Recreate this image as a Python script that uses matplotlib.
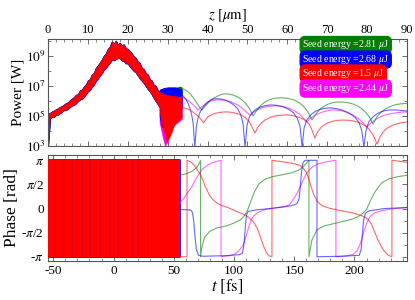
import numpy as np
import matplotlib
matplotlib.use('Agg')
import matplotlib.pyplot as plt
from matplotlib.ticker import MultipleLocator, FixedLocator, NullFormatter, FuncFormatter

plt.rcParams['font.family'] = ['Liberation Serif', 'DejaVu Serif']
plt.rcParams['mathtext.fontset'] = 'stix'

# legend labels / colours
seed_energies = ['2.81', '2.68', '1.5', '2.44']
seed_colors = ['#008000', '#0000ff', '#ff0000', '#ff00ff']

# ---- power, noisy part (z [um], log10 P) ----
hump_z = list(np.arange(0, 28.5, 0.5))
hump_lo = [3.0, 4.85, 4.95, 4.95, 5.1, 5.1, 5.2, 5.3, 5.4, 5.4,
           5.5, 5.6, 5.7, 5.75, 5.85, 6.0, 6.1, 6.15, 6.3, 6.45,
           6.65, 6.75, 6.95, 7.1, 7.35, 7.5, 7.7, 7.85, 8.1, 8.2,
           8.4, 8.55, 8.75, 8.7, 8.8, 8.85, 8.85, 8.7, 8.65, 8.5,
           8.5, 8.3, 8.15, 8.0, 7.9, 7.7, 7.5, 7.35, 7.2, 7.0,
           6.8, 6.65, 6.45, 6.2, 6.0, 5.8, 5.6]
hump_hi = [5.15, 5.2, 5.3, 5.35, 5.45, 5.5, 5.6, 5.65, 5.75, 5.85,
           5.9, 6.05, 6.15, 6.25, 6.4, 6.45, 6.7, 6.75, 6.95, 7.1,
           7.35, 7.45, 7.75, 7.85, 8.2, 8.35, 8.55, 8.75, 9.0, 9.15,
           9.45, 9.6, 9.95, 9.8, 10.0, 9.75, 9.85, 9.7, 9.75, 9.5,
           9.45, 9.3, 9.15, 8.95, 8.85, 8.6, 8.5, 8.2, 8.1, 7.85,
           7.75, 7.45, 7.35, 7.05, 7.0, 6.7, 6.6]

green_tail_z = [28, 29, 30, 31, 32, 33, 33.5]
green_tail_lo = [5.5, 5.4, 5.5, 5.6, 5.8, 5.9, 6.0]
green_tail_hi = [6.7, 6.75, 6.8, 6.8, 6.85, 6.95, 6.9]
blue_tail_z = [28, 28.5, 29, 30, 31, 32, 33, 33.5]
blue_tail_lo = [5.0, 4.3, 4.6, 4.8, 5.0, 5.2, 5.3, 5.5]
blue_tail_hi = [6.75, 6.8, 6.85, 6.9, 6.9, 6.9, 6.8, 6.75]
red_tail_z = [28, 28.7, 29.3, 29.8, 30.3, 31, 31.6, 32.3, 33, 33.5]
red_tail_lo = [5.2, 4.2, 3.8, 3.2, 3.5, 3.9, 4.4, 4.6, 4.8, 4.9]
red_tail_hi = [6.6, 6.5, 6.45, 6.4, 6.4, 6.35, 6.35, 6.3, 6.3, 6.3]
magenta_tail_z = [28, 28.8, 29.4, 30, 31, 32, 33.5]
magenta_tail_lo = [4.6, 3.6, 3.0, 3.7, 4.2, 4.5, 4.8]
magenta_tail_hi = [6.55, 6.45, 6.4, 6.4, 6.35, 6.3, 6.3]

# ---- power, smooth part (z [um], log10 P) ----
green_pw = [(33.5, 6.85), (34.5, 6.72), (35.6, 6.5), (36.4, 6.22), (37.3, 5.87), (38.1, 5.55),
            (38.6, 5.38), (39.3, 5.62), (40.2, 5.88), (41.2, 6.12), (42.3, 6.3), (43.3, 6.42),
            (44.3, 6.47), (45.5, 6.45), (46.5, 6.38), (47.5, 6.27), (48.5, 6.1), (49.5, 5.85),
            (50.5, 5.5), (51.4, 5.0), (52.4, 5.4), (53.4, 5.72), (54.5, 5.95), (55.5, 6.08),
            (56.5, 6.16), (57.6, 6.2), (58.7, 6.21), (60, 6.18), (61, 6.12), (62, 6.03),
            (63, 5.88), (64, 5.65), (65.1, 5.3), (66.2, 4.73), (67.2, 5.15), (68.2, 5.45),
            (69.2, 5.65), (70.2, 5.79), (71.2, 5.87), (72.2, 5.92), (73.2, 5.93), (74.5, 5.91),
            (75.5, 5.86), (76.5, 5.79), (77.5, 5.68), (78.5, 5.52), (79.5, 5.28), (80.5, 4.95),
            (81.5, 4.47), (82.5, 4.95), (83.5, 5.25), (84.5, 5.45), (85.5, 5.6), (86.5, 5.7),
            (87.5, 5.77), (88.5, 5.81), (90, 5.83)]
blue_pw = [(33.5, 6.4), (34.5, 6.15), (35.1, 5.85), (35.6, 5.5), (36.0, 5.1), (36.4, 4.5),
           (36.8, 2.9), (37.2, 4.3), (37.6, 4.87), (38.2, 5.3), (38.9, 5.6), (39.8, 5.85),
           (40.6, 6.05), (41.5, 6.13), (42.3, 6.15), (43.5, 6.12), (44.5, 6.05), (45.5, 5.93),
           (46.5, 5.75), (47.5, 5.5), (48.3, 5.1), (48.9, 4.5), (49.4, 2.9), (49.9, 4.4),
           (50.5, 4.95), (51.5, 5.3), (52.5, 5.5), (53.5, 5.62), (54.5, 5.69), (55.5, 5.73),
           (56.5, 5.73), (57.5, 5.7), (58.5, 5.64), (59.5, 5.55), (60.5, 5.42), (61.5, 5.22),
           (62.5, 4.85), (63.2, 4.3), (63.7, 2.9), (64.2, 4.2), (64.9, 4.75), (66, 5.1),
           (67, 5.3), (68, 5.42), (69, 5.49), (70, 5.53), (71, 5.53), (72, 5.5), (73, 5.45),
           (74, 5.37), (75, 5.25), (76, 5.1), (77, 4.9), (78, 4.55), (78.7, 4.0), (79.2, 2.9),
           (79.7, 4.0), (80.4, 4.6), (81.5, 4.95), (82.5, 5.15), (83.5, 5.28), (84.5, 5.36),
           (85.7, 5.4), (87, 5.4), (88.5, 5.37), (90, 5.33)]
red_pw = [(33.5, 5.6), (35.6, 5.4), (37.3, 5.07), (38.3, 4.8), (39.0, 4.55), (40.1, 4.95),
          (41, 5.08), (42, 5.18), (43, 5.24), (44.4, 5.27), (45.5, 5.26), (46.5, 5.22),
          (47.5, 5.15), (48.5, 5.05), (49.5, 4.9), (50.5, 4.6), (51.2, 4.25), (51.9, 3.87),
          (52.6, 4.25), (53.5, 4.55), (54.5, 4.75), (55.5, 4.88), (56.5, 4.97), (57.5, 5.03),
          (59.4, 5.07), (60.5, 5.06), (61.5, 5.02), (62.5, 4.95), (63.5, 4.85), (64.5, 4.7),
          (65.5, 4.45), (66.2, 4.05), (66.9, 3.53), (67.6, 3.95), (68.5, 4.25), (69.5, 4.45),
          (70.5, 4.58), (71.5, 4.66), (72.5, 4.71), (74, 4.73), (75.5, 4.71), (76.5, 4.67),
          (77.5, 4.6), (78.5, 4.5), (79.5, 4.35), (80.5, 4.12), (81.5, 3.75), (82.5, 3.13),
          (83.3, 3.65), (84.2, 4.0), (85.2, 4.22), (86.5, 4.4), (88, 4.52), (90, 4.6)]
magenta_pw = [(33.5, 6.3), (35.6, 5.93), (37.0, 5.6), (37.6, 5.38), (38.5, 5.6), (39.8, 5.9),
              (40.8, 6.0), (42, 6.06), (43, 6.07), (44, 6.05), (45, 6.0), (46, 5.92), (47, 5.8),
              (48, 5.65), (49, 5.45), (50, 5.2), (50.6, 5.07), (51.5, 5.25), (52.5, 5.42),
              (53.5, 5.53), (54.5, 5.6), (55.5, 5.65), (56.9, 5.67), (58, 5.66), (59, 5.62),
              (60, 5.55), (61, 5.45), (62, 5.32), (63, 5.13), (64, 4.88), (64.9, 4.6),
              (65.8, 4.85), (67, 5.05), (68, 5.18), (69, 5.28), (70, 5.35), (71.4, 5.4),
              (72.5, 5.39), (73.5, 5.35), (74.5, 5.28), (75.5, 5.18), (76.5, 5.05), (77.5, 4.88),
              (78.5, 4.67), (79.3, 4.45), (80, 4.27), (80.8, 4.5), (82, 4.75), (83, 4.9),
              (84, 5.02), (85, 5.1), (86.5, 5.18), (88, 5.24), (90, 5.27)]

# ---- phase (t [fs], phase / pi) ----
noise_t = [-54.4, 55.2]
streak_t = [-48.5, -41.9, -34.4, -26.1, -19.5, -11.2, -2.9, 3.7, 15.3, 20.3, 27.8, 36.1]

green_ph = [(55.2, 0.69), (60, 0.72), (65, 0.77), (69, 0.85), (71, 0.93), (72.2, 1.0), (72.2, -1.0),
            (73.4, -0.79), (75.5, -0.6), (80, -0.47), (86, -0.4), (94, -0.36), (100, -0.3),
            (105, -0.24), (108, -0.17), (111, -0.05), (114, 0.15), (117, 0.35), (121, 0.52),
            (126, 0.61), (132, 0.66), (140, 0.7), (148, 0.74), (154, 0.8), (158, 0.88),
            (160.5, 0.95), (162.2, 1.0), (162.2, -1.0), (164.7, -0.65), (168.9, -0.44),
            (175, -0.36), (180, -0.33), (190, -0.27), (198, -0.22), (203, -0.17), (207, -0.1),
            (210, -0.02), (213, 0.15), (216, 0.3), (219, 0.42), (223, 0.54), (229, 0.62),
            (236, 0.66), (243.6, 0.69)]
blue_ph = [(55.2, -0.02), (64, -0.03), (65.5, -0.08), (66.5, -0.25), (67.6, -0.58), (68.8, -0.85),
           (70.5, -0.97), (74, -0.99), (90, -0.98), (104, -0.96), (107, -0.93), (108.5, -0.7),
           (109.5, -0.35), (110.5, -0.12), (112, -0.06), (118, -0.03), (130, 0.0), (140, 0.03),
           (148, 0.06), (152.3, 0.1), (154, 0.2), (155, 0.45), (156, 0.75), (157.3, 0.95),
           (159, 1.0), (168.9, 1.0), (168.9, -1.0), (190, -0.99), (204, -0.97), (205.5, -0.85),
           (206.5, -0.55), (207.5, -0.25), (209, -0.1), (212, -0.05), (225, 0.0), (243.6, 0.02)]
red_ph = [(55.2, -1.0), (61.0, -1.0), (61.0, 1.0), (64, 0.97), (67, 0.9), (70, 0.78), (72, 0.71),
          (74, 0.6), (76, 0.46), (78, 0.36), (80, 0.26), (83, 0.17), (86, 0.11), (89, 0.07),
          (95, 0.02), (102, -0.06), (108, -0.12), (112, -0.18), (116, -0.27), (119, -0.4),
          (121, -0.52), (124, -0.75), (127, -0.92), (129, -0.98), (131.5, -1.0), (131.5, 1.0),
          (140, 0.97), (148, 0.94), (154, 0.9), (157, 0.85), (160, 0.75), (162, 0.62),
          (164, 0.45), (166, 0.3), (169, 0.15), (173, 0.06), (180, 0.0), (190, -0.05),
          (200, -0.1), (207, -0.16), (211, -0.22), (214, -0.32), (217, -0.5), (220, -0.68),
          (224, -0.86), (228, -0.97), (231.1, -1.0), (231.1, 1.0), (243.6, 0.96)]
magenta_ph = [(55.2, 0.12), (58, 0.2), (62, 0.35), (65, 0.45), (68, 0.6), (71, 0.72), (74, 0.82),
              (78, 0.9), (82, 0.95), (86, 0.98), (89.2, 1.0), (89.2, -1.0), (96.7, -0.98),
              (101, -0.94), (104, -0.88), (107.5, -0.76), (110, -0.58), (112, -0.4), (114, -0.25),
              (116, -0.16), (120, -0.08), (126, -0.02), (134, 0.01), (142, 0.04), (146, 0.08),
              (149, 0.18), (152, 0.3), (155, 0.45), (158, 0.62), (161, 0.76), (165, 0.86),
              (170, 0.93), (177, 0.97), (184.6, 1.0), (184.6, -1.0), (194, -0.98), (199, -0.95),
              (202, -0.88), (204.5, -0.75), (206.5, -0.6), (208.5, -0.42), (210.5, -0.28),
              (213, -0.17), (216, -0.1), (222, -0.05), (230, -0.01), (243.6, 0.02)]


def style_axis(ax, frame='#555555'):
    for s in ax.spines.values():
        s.set_color(frame)
        s.set_linewidth(0.8)
    ax.tick_params(which='both', direction='in', top=True, bottom=True, left=True, right=True,
                   colors=frame, labelcolor='black')
    ax.tick_params(which='major', length=3.5, width=0.6)
    ax.tick_params(which='minor', length=2, width=0.5)


fig = plt.figure(figsize=(4.15, 3.0), dpi=100)
ax1 = fig.add_axes([0.1157, 0.513, 0.865, 0.357])
ax2 = fig.add_axes([0.1157, 0.13, 0.865, 0.353])

# ---------------- power panel ----------------
tails = {
    '#ff00ff': (magenta_tail_z, magenta_tail_lo, magenta_tail_hi, magenta_pw),
    '#008000': (green_tail_z, green_tail_lo, green_tail_hi, green_pw),
    '#0000ff': (blue_tail_z, blue_tail_lo, blue_tail_hi, blue_pw),
    '#ff0000': (red_tail_z, red_tail_lo, red_tail_hi, red_pw),
}
for color, (tz, tlo, thi, pw) in tails.items():
    z = np.array(hump_z + tz)
    lo = 10 ** np.array(hump_lo + tlo)
    hi = 10 ** np.array(hump_hi + thi)
    edge = 0.7 if color != '#ff0000' else 0.2
    ax1.fill_between(z, lo, hi, color=color, lw=edge, zorder=2)
    pw = np.array(pw)
    ax1.plot(pw[:, 0], 10 ** pw[:, 1], color=color, lw=0.8, alpha=0.6, zorder=3)

ax1.set_yscale('log')
ax1.set_xlim(0, 90)
ax1.set_ylim(1e3, 1.3e10)
ax1.xaxis.set_label_position('top')
ax1.xaxis.tick_top()
ax1.set_xlabel(r'$z\ [\mu\mathrm{m}]$', fontsize=10.5, labelpad=3)
ax1.set_ylabel('Power [W]', fontsize=11, labelpad=1)
ax1.xaxis.set_major_locator(MultipleLocator(10))
ax1.xaxis.set_minor_locator(MultipleLocator(2))
ax1.yaxis.set_major_locator(FixedLocator([1e3, 1e5, 1e7, 1e9]))
ax1.yaxis.set_minor_locator(FixedLocator([1e4, 1e6, 1e8, 1e10]))
ax1.yaxis.set_minor_formatter(NullFormatter())
ax1.set_yticklabels([r'$10^{3}$', r'$10^{5}$', r'$10^{7}$', r'$10^{9}$'])
style_axis(ax1)
ax1.tick_params(labelsize=9.5, pad=2)
ax1.tick_params(axis='x', labeltop=True, labelbottom=False, labelsize=9, pad=2.5)

# legend boxes
legend_y = [0.944, 0.808, 0.678, 0.537]
for energy, color, y in zip(seed_energies, seed_colors, legend_y):
    ax1.text(0.708, y, 'Seed energy =' + energy + r' $\mu$J', transform=ax1.transAxes,
             fontsize=7.1, color='white', va='center', ha='left', zorder=5,
             bbox=dict(boxstyle='round,pad=0.2,rounding_size=0.5', fc=color, ec=color))

# ---------------- phase panel ----------------
ax2.fill_between(noise_t, -np.pi, np.pi, color='#0000ff', lw=1.2, zorder=2)
ax2.fill_between(noise_t, -np.pi, np.pi, color='#ff0000', lw=0, zorder=3)
for t in streak_t:
    ax2.plot([t, t], [-np.pi, np.pi], color='#800060', lw=0.6, alpha=0.25, zorder=3)

for color, ph in zip(['#ff00ff', '#008000', '#0000ff', '#ff0000'],
                     [magenta_ph, green_ph, blue_ph, red_ph]):
    ph = np.array(ph)
    ax2.plot(ph[:, 0], ph[:, 1] * np.pi, color=color, lw=0.8, alpha=0.6, zorder=4)

ax2.set_xlim(-54.4, 243.6)
ax2.set_ylim(-3.42, 3.48)
ax2.set_xlabel(r'$t\ [\mathrm{fs}]$', fontsize=12, labelpad=0)
ax2.set_ylabel('Phase [rad]', fontsize=12.5, labelpad=1)
ax2.xaxis.set_major_locator(MultipleLocator(50))
ax2.xaxis.set_minor_locator(MultipleLocator(10))
ax2.xaxis.set_major_formatter(FuncFormatter(lambda v, p: '%d' % v))
ax2.set_yticks([-np.pi, -np.pi / 2, 0, np.pi / 2, np.pi])
ax2.set_yticklabels([r'-$\pi$', r'-$\pi$/2', '0', r'$\pi$/2', r'$\pi$'])
ax2.yaxis.set_minor_locator(MultipleLocator(np.pi / 4))
style_axis(ax2)
ax2.tick_params(labelsize=9.5, pad=3)

fig.savefig('out.png', dpi=100)
